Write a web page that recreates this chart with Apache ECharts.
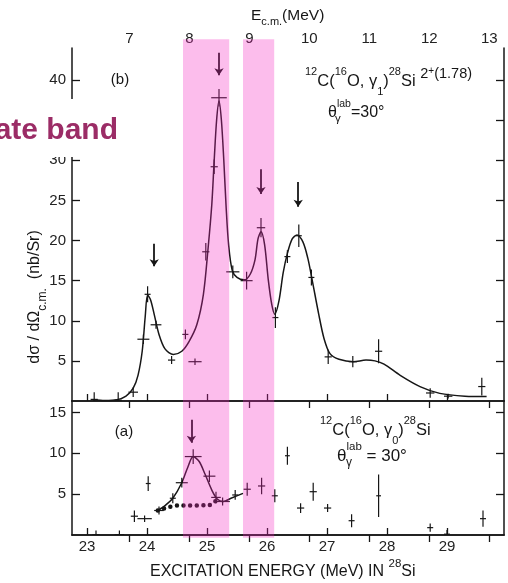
<!DOCTYPE html>
<html><head><meta charset="utf-8">
<script src="https://cdn.jsdelivr.net/npm/echarts@6/dist/echarts.min.js"></script>
<style>html,body{margin:0;padding:0;background:#fff}#c{width:508px;height:583px}</style>
</head><body><div id="c"></div><script>
// ---- tick labels ----
const exTicks = [23, 24, 25, 26, 27, 28, 29];          // excitation energy in 28Si (MeV)
const ecmTicks = [7, 8, 9, 10, 11, 12, 13];            // E c.m. (MeV)
const yTicksB = [5, 10, 15, 20, 25, 30, 35, 40];
const yTicksA = [5, 10, 15];

// ---- panel (b): 12C(16O,g1)28Si 2+(1.78) ----
const curveB = [[23.1,0.15],[23.3,0.05],[23.5,0.15],[23.65,0.6],[23.77,1.6],[23.85,3.2],[23.92,6.2],[23.97,10.5],[24.01,13.2],[24.06,12.6],[24.12,10.8],[24.2,8.3],[24.3,6.5],[24.44,5.8],[24.58,6.2],[24.7,7.4],[24.83,9.5],[24.94,13.3],[25.02,19.2],[25.08,24.5],[25.12,30],[25.16,35],[25.2,37.4],[25.24,35],[25.28,30],[25.32,24],[25.36,19.5],[25.42,16.3],[25.5,15.4],[25.62,15.1],[25.72,15.8],[25.8,17.6],[25.85,20.2],[25.9,21.1],[25.96,19.5],[26.02,15.2],[26.08,12.0],[26.13,10.8],[26.2,12.5],[26.27,16],[26.34,18.4],[26.42,20.2],[26.5,20.7],[26.6,19.8],[26.68,17.8],[26.75,15.2],[26.86,10.9],[26.95,7.8],[27.05,5.9],[27.2,5.2],[27.44,4.9],[27.65,5.1],[27.8,5.0],[27.95,4.6],[28.22,3.2],[28.55,1.8],[28.88,0.95],[29.3,0.6],[29.66,0.55]];
// [Ex, value, half-width in Ex, half-error in value]
const pointsB = [[23.12,0.2,0.06,0.9],[23.52,0.1,0.06,1.0],[23.77,1.1,0.08,0.6],[23.94,7.7,0.1,0.6],[24.01,13.3,0.05,1.0],[24.15,9.5,0.09,0.5],[24.41,5.1,0.06,0.5],[24.64,8.3,0.05,0.6],[24.8,4.9,0.11,0.4],[24.98,18.6,0.06,1.1],[25.12,29.2,0.06,0.9],[25.2,37.8,0.13,1.1],[25.43,16.1,0.11,0.8],[25.66,15.0,0.1,1.1],[25.9,21.6,0.07,1.2],[26.14,10.4,0.05,1.3],[26.34,18.0,0.05,0.8],[26.53,20.6,0.05,1.4],[26.74,15.4,0.05,1.0],[27.02,5.5,0.06,0.9],[27.43,4.9,0.07,0.7],[27.86,6.2,0.06,1.5],[28.72,1.0,0.07,0.6],[29.02,0.6,0.07,0.3],[29.58,1.8,0.06,1.1]];
// [Ex, arrow start value, arrow end value]
const arrowsB = [[24.12,19.6,16.8],[25.2,43.4,40.6],[25.9,28.9,25.8],[26.52,27.3,24.2]];

// ---- panel (a): 12C(16O,g0)28Si ----
const curveA = [[24.18,3.0],[24.3,3.6],[24.43,4.5],[24.58,6.4],[24.68,8.3],[24.77,9.6],[24.87,9.0],[24.97,7.4],[25.08,5.5],[25.17,4.4],[25.27,4.1],[25.4,4.5],[25.6,5.1]];
const dottedA = [[24.18,3.0],[24.35,3.4],[24.5,3.6],[25.04,3.65],[25.15,4.2]];
const pointsA = [[23.15,0.05,0.06,0.5],[23.54,0.05,0.08,0.5],[23.79,2.3,0.06,0.7],[23.96,2.0,0.12,0.4],[24.02,6.3,0.04,0.9],[24.2,3.0,0.08,0.5],[24.43,4.5,0.05,0.6],[24.58,6.4,0.1,0.6],[24.77,9.6,0.14,0.9],[25.04,7.2,0.1,0.7],[25.15,4.6,0.08,0.7],[25.26,4.1,0.12,0.5],[25.47,4.9,0.05,0.6],[25.67,5.6,0.06,0.8],[25.91,6.0,0.06,1.0],[26.13,4.8,0.05,0.8],[26.34,9.7,0.04,1.1],[26.56,3.3,0.06,0.6],[26.77,5.3,0.06,1.1],[27.01,3.3,0.06,0.5],[27.41,1.75,0.05,0.8],[27.86,4.8,0.04,2.6],[28.72,0.9,0.05,0.5],[29.0,0.1,0.05,0.5],[29.6,2.0,0.05,1.0]];
const arrowsA = [[24.74,14.1,11.3]];

// ---- highlighted bands (Ex ranges), vertical span in panel (b) units ----
const bands = [[24.6,25.37],[25.6,26.12]];
const bandSpan = [45.1, -17.05];

const FONT = 'Liberation Sans';
const INK = '#161616';

function crossRender(params, api) {
  const x = api.value(0), y = api.value(1), dx = api.value(2), dy = api.value(3);
  const l = api.coord([x - dx, y]), r = api.coord([x + dx, y]);
  const t = api.coord([x, y + dy]), b = api.coord([x, y - dy]);
  return {type: 'group', children: [
    {type: 'line', shape: {x1: l[0], y1: l[1], x2: r[0], y2: r[1]}, style: {stroke: INK, lineWidth: 1.2}},
    {type: 'line', shape: {x1: t[0], y1: t[1], x2: b[0], y2: b[1]}, style: {stroke: INK, lineWidth: 1.2}}
  ]};
}
function bandRender(params, api) {
  const a = api.coord([api.value(0), bandSpan[0]]);
  const b = api.coord([api.value(1), bandSpan[1]]);
  return {type: 'rect', shape: {x: a[0], y: a[1], width: b[0] - a[0], height: b[1] - a[1]},
          style: {fill: 'rgba(245,35,192,0.30)'}};
}

const axLine = {show: true, lineStyle: {color: INK, width: 1.5}};
const lbl = {fontFamily: FONT, fontSize: 15, color: '#222'};

function xAx(grid, pos, min, max, ticks, labels, margin) {
  return {type: 'value', gridIndex: grid, position: pos, min: min, max: max,
    axisLine: axLine, splitLine: {show: false},
    axisTick: {show: true, inside: true, length: 7, lineStyle: {color: INK, width: 1.3}, customValues: ticks},
    axisLabel: labels ? Object.assign({show: true, customValues: labels, margin: margin}, lbl) : {show: false}};
}
function yAx(grid, pos, max, ticks, labels) {
  return {type: 'value', gridIndex: grid, position: pos, min: 0, max: max,
    axisLine: axLine, splitLine: {show: false},
    axisTick: {show: true, inside: true, length: 8, lineStyle: {color: INK, width: 1.3}, customValues: ticks},
    axisLabel: labels ? Object.assign({show: true, customValues: labels, margin: 6}, lbl) : {show: false}};
}

const ECM_MIN = 6.045, ECM_MAX = 13.245, EX_MIN = 22.75, EX_MAX = 29.95;

const sub = (fs) => ({fontFamily: FONT, fontSize: fs, lineHeight: fs + 2, verticalAlign: 'bottom', fill: INK, color: INK});
const sup = (fs) => ({fontFamily: FONT, fontSize: fs, lineHeight: fs + 2, verticalAlign: 'top', fill: INK, color: INK});
const main = (fs, lh) => ({fontFamily: FONT, fontSize: fs, lineHeight: lh, fill: INK, color: INK});

const option = {
  animation: false,
  backgroundColor: '#fff',
  grid: [
    {left: 72, right: 4, top: 48, height: 353},
    {left: 72, right: 4, top: 401, height: 134}
  ],
  xAxis: [
    xAx(0, 'bottom', EX_MIN, EX_MAX, exTicks, null),
    xAx(0, 'top', ECM_MIN, ECM_MAX, ecmTicks, ecmTicks, 2),
    xAx(1, 'bottom', EX_MIN, EX_MAX, exTicks, exTicks, 4),
    xAx(1, 'top', ECM_MIN, ECM_MAX, ecmTicks, null)
  ],
  yAxis: [
    yAx(0, 'left', 44, yTicksB, yTicksB),
    yAx(0, 'right', 44, yTicksB, null),
    yAx(1, 'left', 16.4, yTicksA, yTicksA),
    yAx(1, 'right', 16.4, yTicksA, null)
  ],
  series: [
    {type: 'line', xAxisIndex: 0, yAxisIndex: 0, data: curveB, showSymbol: false, smooth: 0.3,
     lineStyle: {color: INK, width: 1.5}, z: 3},
    {type: 'custom', xAxisIndex: 0, yAxisIndex: 0, data: pointsB, renderItem: crossRender, clip: true, z: 4},
    {type: 'lines', coordinateSystem: 'cartesian2d', xAxisIndex: 0, yAxisIndex: 0,
     data: arrowsB.map(a => ({coords: [[a[0], a[1]], [a[0], a[2]]]})),
     symbol: ['none', 'arrow'], symbolSize: 7, lineStyle: {color: INK, width: 1.8, opacity: 1}, z: 4},
    {type: 'line', xAxisIndex: 2, yAxisIndex: 2, data: curveA, showSymbol: false, smooth: 0.3,
     lineStyle: {color: INK, width: 1.5}, z: 3},
    {type: 'line', xAxisIndex: 2, yAxisIndex: 2, data: dottedA, showSymbol: false, smooth: 0.3,
     lineStyle: {color: INK, width: 4.5, type: [0, 6.6], cap: 'round'}, z: 3},
    {type: 'custom', xAxisIndex: 2, yAxisIndex: 2, data: pointsA, renderItem: crossRender, clip: true, z: 4},
    {type: 'lines', coordinateSystem: 'cartesian2d', xAxisIndex: 2, yAxisIndex: 2,
     data: arrowsA.map(a => ({coords: [[a[0], a[1]], [a[0], a[2]]]})),
     symbol: ['none', 'arrow'], symbolSize: 7, lineStyle: {color: INK, width: 1.8, opacity: 1}, z: 4},
    {type: 'custom', xAxisIndex: 0, yAxisIndex: 0, data: bands, renderItem: bandRender, clip: false, z: 20, silent: true}
  ],
  graphic: [
    // white box behind the overlaid caption
    {type: 'rect', z: 100, shape: {x: 0, y: 99, width: 128, height: 58}, style: {fill: '#fff'}},
    {type: 'text', z: 101, x: 118, y: 131, style: {text: 'Intermediate band', fontFamily: FONT, fontWeight: 'bold',
      fontSize: 30, fill: '#9b2c66', align: 'right', verticalAlign: 'middle'}},
    // top axis title
    {type: 'text', z: 50, x: 251, y: 5, style: {text: '{m|E}{b|c.m.}{m|(MeV)}', rich: {m: main(15.5, 22), b: sub(11)}}},
    // panel labels
    {type: 'text', z: 50, x: 120, y: 80, style: {text: '(b)', fontFamily: FONT, fontSize: 15, fill: INK, align: 'center', verticalAlign: 'middle'}},
    {type: 'text', z: 50, x: 124, y: 432, style: {text: '(a)', fontFamily: FONT, fontSize: 15, fill: INK, align: 'center', verticalAlign: 'middle'}},
    // reaction (b)
    {type: 'text', z: 50, x: 305, y: 66, style: {
      text: '{s|12}{m|C(}{s|16}{m|O, γ}{b|1}{m|)}{s|28}{m|Si }{u|2}{us|+}{u|(1.78)}',
      rich: {m: main(16.5, 31), s: sup(11), b: sub(11), u: sup(14.5), us: sup(10)}}},
    {type: 'text', z: 50, x: 328, y: 99, style: {text: '{m|θ}{s|lab}{m|=30°}', rich: {m: main(16, 28), s: sup(10.5)}}},
    {type: 'text', z: 50, x: 335, y: 119, style: {text: 'γ', fontFamily: FONT, fontSize: 11.5, fill: INK, verticalAlign: 'middle'}},
    // reaction (a)
    {type: 'text', z: 50, x: 320, y: 415, style: {
      text: '{s|12}{m|C(}{s|16}{m|O, γ}{b|0}{m|)}{s|28}{m|Si}',
      rich: {m: main(16.5, 31), s: sup(11), b: sub(11)}}},
    {type: 'text', z: 50, x: 337, y: 441, style: {text: '{m|θ}{s|lab}{m| = 30°}', rich: {m: main(17, 30), s: sup(11.5)}}},
    {type: 'text', z: 50, x: 346, y: 463, style: {text: 'γ', fontFamily: FONT, fontSize: 12, fill: INK, verticalAlign: 'middle'}},
    // bottom axis title
    {type: 'text', z: 50, x: 150, y: 558, style: {text: '{m|EXCITATION ENERGY (MeV) IN }{s|28}{m|Si}',
      rich: {m: main(16, 28), s: sup(11.5)}}},
    // y axis title (rotated)
    {type: 'text', z: 50, x: 35, y: 297, rotation: Math.PI / 2, style: {
      text: '{m|dσ / dΩ}{b|c.m.}{m|  (nb/Sr)}', align: 'center', verticalAlign: 'middle',
      rich: {m: main(16, 28), b: sub(12)}}}
  ]
};
echarts.init(document.getElementById('c'), null, {renderer: 'canvas'}).setOption(option);
</script></body></html>
